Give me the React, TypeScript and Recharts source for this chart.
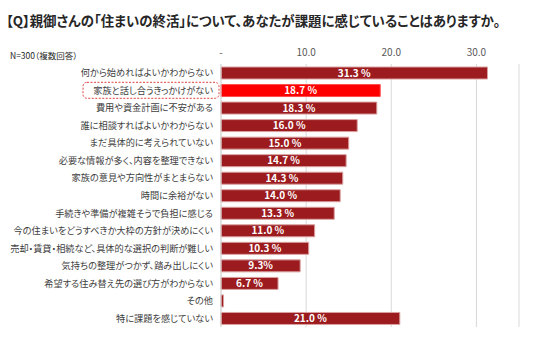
import React from "react";
import { BarChart, Bar, XAxis, YAxis, CartesianGrid, LabelList, Cell } from "recharts";

const categories = [
  "何から始めればよいかわからない",
  "家族と話し合うきっかけがない",
  "費用や資金計画に不安がある",
  "誰に相談すればよいかわからない",
  "まだ具体的に考えられていない",
  "必要な情報が多く、内容を整理できない",
  "家族の意見や方向性がまとまらない",
  "時間に余裕がない",
  "手続きや準備が複雑そうで負担に感じる",
  "今の住まいをどうすべきか大枠の方針が決めにくい",
  "売却・賃貸・相続など、具体的な選択の判断が難しい",
  "気持ちの整理がつかず、踏み出しにくい",
  "希望する住み替え先の選び方がわからない",
  "その他",
  "特に課題を感じていない",
];
const values = [31.3, 18.7, 18.3, 16.0, 15.0, 14.7, 14.3, 14.0, 13.3, 11.0, 10.3, 9.3, 6.7, 0.3, 21.0];
const valueLabels = [
  "31.3 %", "18.7 %", "18.3 %", "16.0 %", "15.0 %", "14.7 %", "14.3 %", "14.0 %",
  "13.3 %", "11.0 %", "10.3 %", "9.3%", "6.7 %", "", "21.0 %",
];
const xTicks = [0, 10, 20, 30];
const highlightIndex = 1;

const data = categories.map((c, i) => ({ name: c, value: values[i], label: valueLabels[i] }));

const FONT = "'Noto Sans CJK JP', 'Noto Sans', sans-serif";

const YTick = (props: any) => {
  const { x, y, payload, index } = props;
  const hl = index === highlightIndex;
  return (
    <g>
      {hl && (
        <rect
          x={x - 130}
          y={y - 8}
          width={136}
          height={16}
          rx={4}
          ry={4}
          fill="none"
          stroke="#e0403f"
          strokeWidth={1}
          strokeDasharray="2 1.5"
        />
      )}
      <text
        x={x}
        y={y}
        dy={3.5}
        textAnchor="end"
        fontSize={9.2}
        fill="#404040"
        fontFamily={FONT}
        style={{ fontFeatureSettings: "'palt'" }}
      >
        {payload.value}
      </text>
    </g>
  );
};

export default function App() {
  return (
    <div style={{ position: "absolute", left: 0, top: 0, width: 536, height: 339, background: "#fff", fontFamily: FONT }}>
      <div
        style={{
          position: "absolute",
          left: 6,
          top: 10,
          fontSize: 13.4,
          fontWeight: 700,
          color: "#262626",
          whiteSpace: "nowrap",
          fontFeatureSettings: "'palt'",
        }}
      >
        【Q】親御さんの「住まいの終活」について、あなたが課題に感じていることはありますか。
      </div>
      <div
        style={{
          position: "absolute",
          left: 10,
          top: 49,
          fontSize: 8.5,
          color: "#262626",
          whiteSpace: "nowrap",
          fontFeatureSettings: "'palt'",
        }}
      >
        N=300（複数回答）
      </div>
      <BarChart
        width={536}
        height={339}
        data={data}
        layout="vertical"
        margin={{ top: 40, right: 17, left: 0, bottom: 12 }}
        barSize={12}
      >
        <CartesianGrid horizontal={false} vertical={true} stroke="#d9d9d9" />
        <XAxis
          type="number"
          orientation="top"
          domain={[0, 35]}
          ticks={xTicks}
          height={24}
          axisLine={false}
          tickLine={false}
          tick={{ fontSize: 10, fill: "#595959", fontFamily: FONT }}
          tickFormatter={(v: number) => (v === 0 ? "-" : v.toFixed(1))}
        />
        <YAxis
          type="category"
          dataKey="name"
          width={221}
          axisLine={{ stroke: "#d9d9d9" }}
          tickLine={false}
          interval={0}
          tick={<YTick />}
        />
        <Bar dataKey="value" isAnimationActive={false} strokeWidth={1}>
          {data.map((d, i) => (
            <Cell
              key={i}
              fill={i === highlightIndex ? "#ff0000" : "#9b1b1e"}
              stroke={i === highlightIndex ? "#ff4d4d" : "#dba0a0"}
            />
          ))}
          <LabelList dataKey="label" position="center" fill="#ffffff" fontSize={10} fontWeight={600} fontFamily={FONT} />
        </Bar>
      </BarChart>
    </div>
  );
}
